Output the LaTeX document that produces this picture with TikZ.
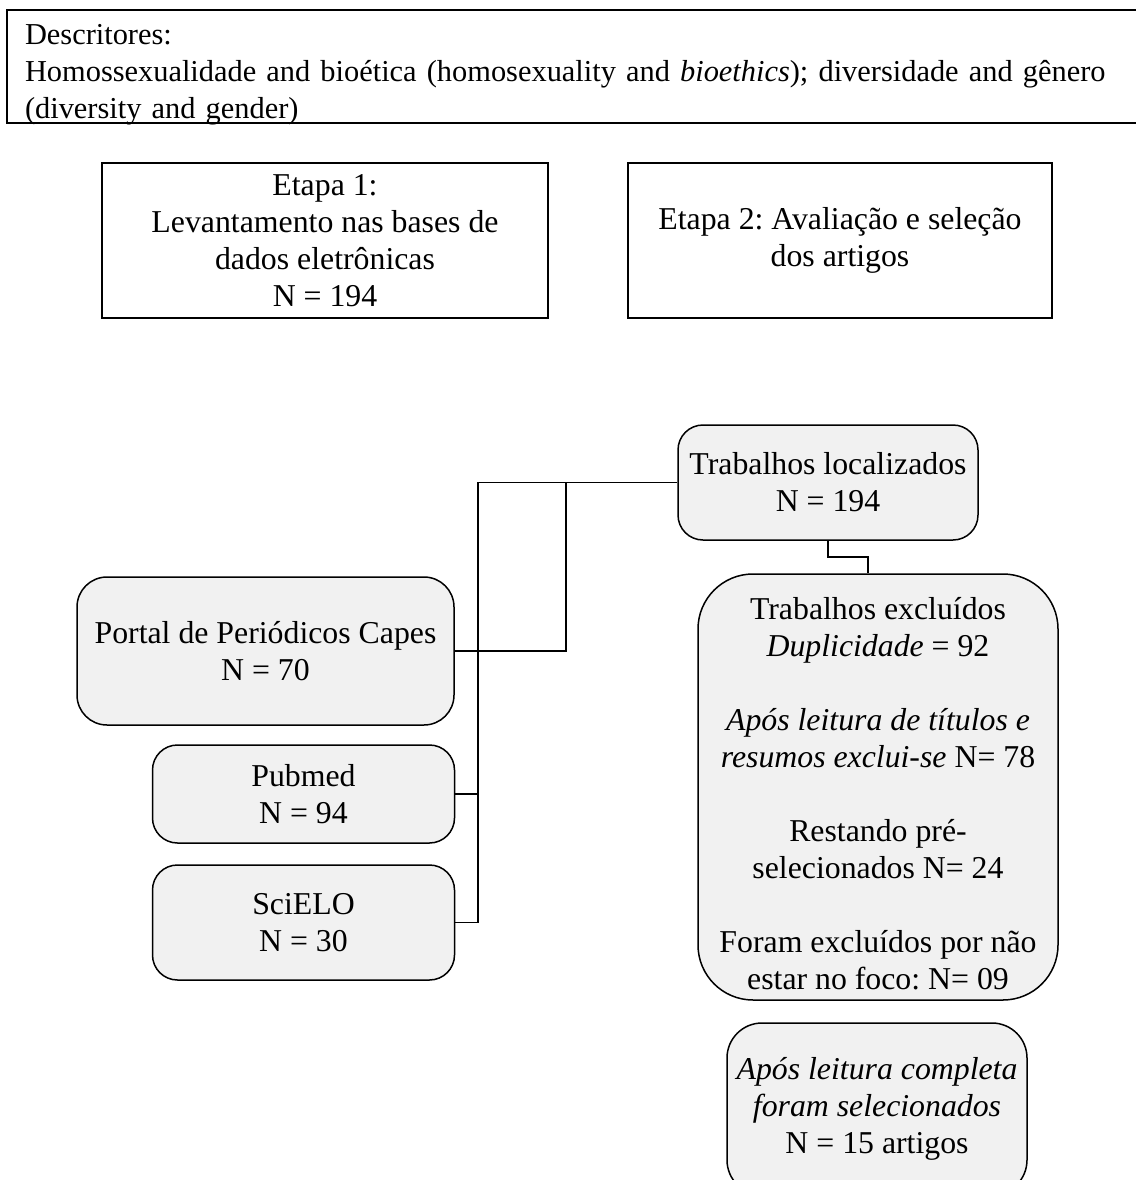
\documentclass[tikz,border=0pt]{standalone}
\usepackage{fontspec}
\setmainfont{Liberation Serif}
\definecolor{boxfill}{HTML}{F1F1F1}
\frenchspacing

\begin{document}
\begin{tikzpicture}[x=1pt, y=-1pt, font=\fontsize{31.8}{37}\selectfont,
  box/.style={draw, line width=1.5pt, align=center, inner sep=0pt},
  rbox/.style={box, fill=boxfill, rounded corners=#1}, rbox/.default=25pt,
  conn/.style={line width=1.5pt}]
\useasboundingbox (0,0) rectangle (1135,1180);
\node (desc)[box, align=left, minimum height=113pt, text width=1107pt, inner xsep=18pt, inner ysep=-3pt, font=\fontsize{30.4}{37}\selectfont] at (578.5,66.5) {\rule{0pt}{37pt}Descritores:\\Homossexualidade and bioética (homosexuality and \textit{bioethics});\ diversidade and gênero\\(diversity and gender)};
\node (etapa1)[box, minimum width=446pt, minimum height=155pt] at (325,240.5) {Etapa 1:\\Levantamento nas bases de\\dados eletrônicas\\N = 194};
\node (etapa2)[box, minimum width=424pt, minimum height=155pt] at (840,240.5) {Etapa 2: Avaliação e seleção\\dos artigos};
\node (local)[rbox, minimum width=300pt, minimum height=115pt] at (828,482.5) {Trabalhos localizados\\N = 194};
\node (excl)[rbox=55pt, minimum width=360pt, minimum height=426pt] at (878,787) {\rule{0pt}{36pt}Trabalhos excluídos\\\textit{Duplicidade} = 92\\[37pt]\textit{Após leitura de títulos e}\\\textit{resumos exclui-se} N= 78\\[37pt]Restando pré-\\selecionados N= 24\\[37pt]Foram excluídos por não\\estar no foco: N= 09};
\node (final)[rbox=35pt, minimum width=300pt, minimum height=172pt] at (877,1109) {\textit{Após leitura completa}\\\textit{foram selecionados}\\N = 15 artigos};
\node (capes)[rbox=30pt, minimum width=377pt, minimum height=148pt] at (265.5,651) {Portal de Periódicos Capes\\N = 70};
\node (pubmed)[rbox, minimum width=302pt, minimum height=98pt] at (303.5,794) {Pubmed\\N = 94};
\node (scielo)[rbox, minimum width=302pt, minimum height=115pt] at (303.5,922.5) {SciELO\\N = 30};
\coordinate (spine) at (478,482.5);
\coordinate (tee) at (566,482.5);
\draw[conn] (scielo.east) -| (spine) -- (local.west);
\draw[conn] (pubmed.east) -- (pubmed.east -| spine);
\draw[conn] (capes.east) -| (tee);
\draw[conn] (local.south) -- ++(0,16) -| ([xshift=-10pt]excl.north);
\end{tikzpicture}
\end{document}
